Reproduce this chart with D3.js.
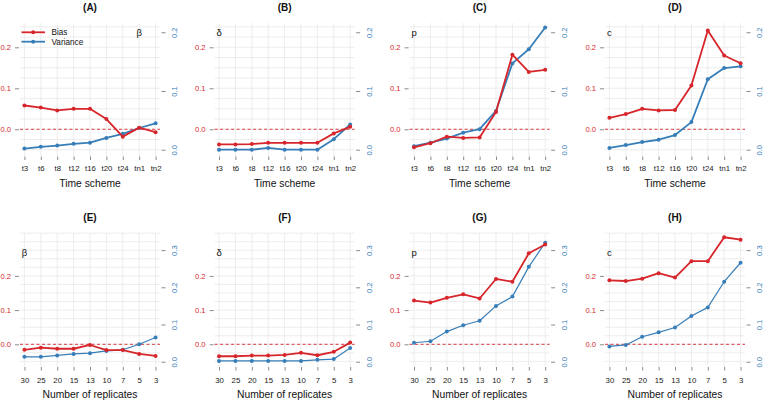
<!DOCTYPE html>
<html><head><meta charset="utf-8">
<script src="https://cdn.jsdelivr.net/npm/d3@7"></script>
<style>html,body{margin:0;padding:0;background:#fff;}svg{display:block;font-family:"Liberation Sans",Arial,sans-serif;}</style>
</head><body>
<svg id="chart" width="763" height="402"></svg>
<script>
// ---- data ----
const timeSchemes = ["t3","t6","t8","t12","t16","t20","t24","tn1","tn2"];
const replicates  = ["30","25","20","15","13","10","7","5","3"];
const panelTitles = ["(A)","(B)","(C)","(D)","(E)","(F)","(G)","(H)"];
const paramLabels = ["β","δ","p","c","β","δ","p","c"];
const leftTicks = [0, 0.1, 0.2];
const rightTicksTop = [0, 0.1, 0.2];
const rightTicksBottom = [0, 0.1, 0.2, 0.3];

const biasTimeBeta  = [0.058, 0.053, 0.046, 0.050, 0.050, 0.025, -0.018, 0.004, -0.007];
const varTimeBeta   = [0.002, 0.005, 0.007, 0.010, 0.012, 0.020, 0.027, 0.037, 0.045];
const biasTimeDelta = [-0.037, -0.037, -0.036, -0.033, -0.033, -0.033, -0.033, -0.010, 0.006];
const varTimeDelta  = [0.000, 0.000, 0.000, 0.003, 0.000, 0.000, 0.000, 0.018, 0.043];
const biasTimeP     = [-0.044, -0.034, -0.018, -0.021, -0.020, 0.042, 0.182, 0.140, 0.145];
const varTimeP      = [0.006, 0.012, 0.019, 0.029, 0.035, 0.066, 0.147, 0.171, 0.208];
const biasTimeC     = [0.028, 0.037, 0.050, 0.046, 0.047, 0.107, 0.241, 0.180, 0.161];
const varTimeC      = [0.003, 0.008, 0.013, 0.017, 0.025, 0.047, 0.120, 0.139, 0.142];

const biasRepBeta   = [-0.016, -0.010, -0.013, -0.013, -0.002, -0.017, -0.017, -0.028, -0.034];
const varRepBeta    = [0.013, 0.013, 0.017, 0.021, 0.023, 0.029, 0.032, 0.047, 0.065];
const biasRepDelta  = [-0.035, -0.035, -0.033, -0.033, -0.031, -0.025, -0.032, -0.022, 0.005];
const varRepDelta   = [0.002, 0.002, 0.002, 0.002, 0.002, 0.002, 0.005, 0.007, 0.037];
const biasRepP      = [0.128, 0.122, 0.136, 0.146, 0.134, 0.191, 0.183, 0.266, 0.292];
const varRepP       = [0.051, 0.055, 0.081, 0.098, 0.110, 0.150, 0.175, 0.255, 0.320];
const biasRepC      = [0.187, 0.185, 0.192, 0.208, 0.195, 0.243, 0.243, 0.313, 0.306];
const varRepC       = [0.041, 0.045, 0.067, 0.079, 0.092, 0.123, 0.146, 0.215, 0.266];

const biasSeries = [biasTimeBeta, biasTimeDelta, biasTimeP, biasTimeC, biasRepBeta, biasRepDelta, biasRepP, biasRepC];
const varSeries  = [varTimeBeta, varTimeDelta, varTimeP, varTimeC, varRepBeta, varRepDelta, varRepP, varRepC];

// ---- style / layout ----
const RED = "#d7262b", BLUE = "#377eb8", GRID = "#e8e8e8", TICK = "#8a8a8a";
const FONT = "Liberation Sans, Arial, sans-serif";
const svg = d3.select("#chart");
const colOffsets = [0, 194.6, 389.6, 585];
const rows = [
  {top: 23, bottom: 156, leftDom: [-0.0652, 0.2593], rightDom: [-0.0107, 0.2158], rightTicks: rightTicksTop,
   cats: timeSchemes, xTitle: "Time scheme", titleY: 10.5, tickLabY: 170.8, xTitleY: 186.8, paramY: 36, blueW: 1.8},
  {top: 233, bottom: 366.5, leftDom: [-0.0649, 0.3254], rightDom: [-0.0129, 0.346], rightTicks: rightTicksBottom,
   cats: replicates, xTitle: "Number of replicates", titleY: 221, tickLabY: 383.2, xTitleY: 398.2, paramY: 256, blueW: 1.2}
];

for (let i = 0; i < 8; i++) {
  const r = rows[Math.floor(i / 4)];
  const dx = colOffsets[i % 4];
  const L = 20 + dx, R = 160 + dx;
  const g = svg.append("g");

  const x = d3.scalePoint().domain(r.cats).range([L, R]).padding(0.27);
  const yL = d3.scaleLinear().domain(r.leftDom).range([r.bottom, r.top]);
  const yR = d3.scaleLinear().domain(r.rightDom).range([r.bottom, r.top]);

  // grid
  const hGrid = d3.range(-0.1, 0.45, 0.025).filter(v => yL(v) >= r.top - 0.1 && yL(v) <= r.bottom + 0.1);
  g.selectAll(".hg").data(hGrid).join("line")
    .attr("x1", L).attr("x2", R).attr("y1", d => yL(d)).attr("y2", d => yL(d))
    .attr("stroke", GRID).attr("stroke-width", 0.8);
  g.selectAll(".vg").data(r.cats).join("line")
    .attr("x1", d => x(d)).attr("x2", d => x(d)).attr("y1", r.top).attr("y2", r.bottom)
    .attr("stroke", GRID).attr("stroke-width", 0.8);

  // left axis
  const la = g.append("g").attr("transform", `translate(${L - 1},0)`)
    .call(d3.axisLeft(yL).tickValues(leftTicks).tickFormat(d3.format(".1f")).tickSize(4).tickPadding(4));
  la.select(".domain").remove();
  la.selectAll(".tick line").attr("stroke", TICK);
  la.selectAll(".tick text").attr("fill", RED).style("font-size", "7.6px").style("font-family", FONT);

  // right axis
  const ra = g.append("g").attr("transform", `translate(${R + 1.5},0)`)
    .call(d3.axisRight(yR).tickValues(r.rightTicks).tickFormat(d3.format(".1f")).tickSize(4));
  ra.select(".domain").remove();
  ra.selectAll(".tick line").attr("stroke", TICK);
  ra.selectAll(".tick text").attr("fill", BLUE).style("font-size", "7.6px")
    .style("font-family", FONT)
    .attr("x", 0).attr("dy", null).attr("text-anchor", "middle")
    .attr("transform", "translate(13,0) rotate(-90)").attr("dominant-baseline", "central");

  // bottom axis
  const ba = g.append("g").attr("transform", `translate(0,${r.bottom + 0.5})`)
    .call(d3.axisBottom(x).tickSize(3.5).tickPadding(5));
  ba.select(".domain").remove();
  ba.selectAll(".tick line").attr("stroke", TICK);
  ba.selectAll(".tick text").attr("fill", "#1a1a1a").style("font-size", "7.8px")
    .style("font-family", FONT)
    .attr("dy", null).attr("transform", null)
    .attr("y", r.tickLabY - r.bottom - 0.5);

  // zero line
  g.append("line").attr("x1", L).attr("x2", R).attr("y1", yL(0)).attr("y2", yL(0))
    .attr("stroke", RED).attr("stroke-width", 0.9).attr("stroke-dasharray", "3,2.5");

  // variance (right axis)
  const vData = r.cats.map((c, k) => ({c, v: varSeries[i][k]}));
  g.append("path").datum(vData)
    .attr("d", d3.line().x(d => x(d.c)).y(d => yR(d.v)))
    .attr("fill", "none").attr("stroke", BLUE).attr("stroke-width", r.blueW).attr("stroke-linejoin", "round");
  g.selectAll(".vp").data(vData).join("circle")
    .attr("cx", d => x(d.c)).attr("cy", d => yR(d.v)).attr("r", 2).attr("fill", BLUE);

  // bias (left axis)
  const bData = r.cats.map((c, k) => ({c, v: biasSeries[i][k]}));
  g.append("path").datum(bData)
    .attr("d", d3.line().x(d => x(d.c)).y(d => yL(d.v)))
    .attr("fill", "none").attr("stroke", RED).attr("stroke-width", 1.8).attr("stroke-linejoin", "round");
  g.selectAll(".bp").data(bData).join("circle")
    .attr("cx", d => x(d.c)).attr("cy", d => yL(d.v)).attr("r", 2).attr("fill", RED);

  // titles
  g.append("text").attr("x", (L + R) / 2).attr("y", r.titleY).attr("text-anchor", "middle")
    .style("font-size", "10px").style("font-weight", "bold").attr("fill", "#111").text(panelTitles[i]);
  g.append("text").attr("x", (L + R) / 2).attr("y", r.xTitleY).attr("text-anchor", "middle")
    .style("font-size", "10.3px").attr("fill", "#111").text(r.xTitle);

  // parameter label
  const px = (i === 0) ? x("tn1") : x(r.cats[0]);
  g.append("text").attr("x", px).attr("y", r.paramY).attr("text-anchor", "middle")
    .style("font-size", "9.5px").attr("fill", "#111").text(paramLabels[i]);

  // legend in panel A
  if (i === 0) {
    const items = [{t: "Bias", c: RED, y: 32.3}, {t: "Variance", c: BLUE, y: 41.7}];
    items.forEach(it => {
      g.append("line").attr("x1", 21.5).attr("x2", 45).attr("y1", it.y).attr("y2", it.y)
        .attr("stroke", it.c).attr("stroke-width", 1.8);
      g.append("circle").attr("cx", 33.2).attr("cy", it.y).attr("r", 2).attr("fill", it.c);
      g.append("text").attr("x", 51.5).attr("y", it.y + 3).style("font-size", "8.2px").attr("fill", "#111").text(it.t);
    });
  }
}
</script>
</body></html>
